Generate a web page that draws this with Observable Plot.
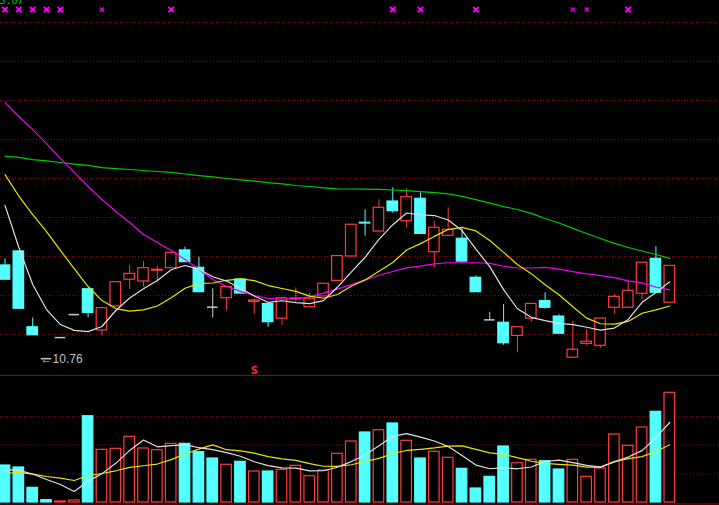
<!DOCTYPE html>
<html>
<head>
<meta charset="utf-8">
<script src="https://cdn.jsdelivr.net/npm/d3@7"></script>
<script src="https://cdn.jsdelivr.net/npm/@observablehq/plot@0.6"></script>
<style>
  html, body { margin: 0; padding: 0; background: #000; }
  #chart { width: 719px; height: 505px; overflow: hidden; background: #000; }
  #chart svg { display: block; }
</style>
</head>
<body>
<div id="chart"></div>
<script>
// ---- Data (price units / volume units) ----
const opens  = [15.54,16.26,12.37,10.76,11.84,13.02,14.32,12.21,13.44,14.81,14.72,15.27,15.40,16.31,15.42,13.40,13.86,14.82,13.67,13.57,12.81,13.81,13.40,13.95,14.75,16.00,17.73,17.28,18.82,17.81,18.96,16.22,17.06,16.91,14.91,12.75,12.60,11.93,12.81,13.71,12.92,10.81,11.52,11.42,13.37,13.37,14.09,15.88,13.63];
const highs  = [15.88,16.26,12.84,10.76,11.84,13.02,14.32,13.35,14.68,15.54,15.74,15.49,16.19,16.48,15.96,14.34,14.43,14.82,13.83,13.57,13.86,14.39,14.12,14.60,16.02,17.63,18.39,18.91,19.52,19.47,19.25,17.79,18.50,17.42,15.01,13.14,13.54,12.37,13.57,14.14,13.01,12.67,12.26,12.82,14.05,14.72,15.68,16.51,15.52];
const lows   = [14.81,13.32,11.96,10.76,11.84,13.02,12.86,11.93,13.44,14.31,14.43,14.68,15.40,15.71,14.17,12.84,13.23,14.10,13.03,12.37,12.46,13.66,13.40,13.95,14.75,16.00,17.04,17.28,18.22,17.47,17.16,15.42,17.06,15.66,14.17,12.75,11.44,11.06,12.63,13.30,12.04,10.81,11.42,11.30,13.03,13.37,13.79,14.14,13.63];
const closes = [14.81,13.32,11.96,10.76,11.84,13.02,13.11,13.35,14.68,15.11,15.40,15.32,16.19,15.71,14.17,13.40,14.43,14.10,13.74,12.63,13.86,13.85,13.83,14.60,16.02,17.63,17.69,18.50,18.32,19.04,17.16,17.47,17.37,15.74,14.17,12.75,11.55,12.37,13.57,13.37,12.04,11.22,11.63,12.82,13.93,14.24,15.68,14.14,15.52];
const volumes = [12890,12200,5120,800,350,700,30070,18360,18710,22890,18820,18220,20450,20450,17530,15330,13140,14180,10800,10800,11390,12790,9160,11150,16970,21250,24390,25190,27530,21500,15330,17670,15570,11740,4880,8950,19510,13690,14880,14390,11500,14880,8950,11850,23690,19760,26130,31600,38220];

const ma5  = [18.62,16.46,14.56,13.28,12.51,12.21,12.15,12.41,13.23,13.87,14.35,14.77,15.32,15.54,15.35,14.96,14.74,14.37,13.97,13.65,13.73,13.63,13.58,13.74,14.42,15.20,15.96,16.88,17.63,18.23,18.14,18.10,17.87,17.33,16.38,15.48,14.30,13.32,12.88,12.71,12.57,12.51,12.37,12.22,12.33,12.77,13.65,14.15,14.70];
const ma10 = [20.20,19.10,18.15,17.28,16.31,15.38,14.46,13.74,13.33,13.20,13.26,13.46,13.88,14.37,14.61,14.64,14.78,14.85,14.76,14.51,14.36,14.21,13.97,13.86,14.05,14.47,14.80,15.24,15.69,16.33,16.66,17.03,17.38,17.49,17.31,16.82,16.21,15.59,15.12,14.55,14.04,13.42,12.84,12.55,12.53,12.67,13.09,13.26,13.46];
const ma20 = [23.90,23.18,22.51,21.79,21.03,20.31,19.59,18.92,18.31,17.74,17.13,16.72,16.31,15.85,15.33,14.82,14.46,14.21,14.00,13.85,13.81,13.83,13.93,14.12,14.33,14.56,14.79,15.04,15.23,15.42,15.51,15.62,15.68,15.68,15.68,15.65,15.50,15.41,15.41,15.44,15.35,15.22,15.11,15.02,14.92,14.75,14.65,14.43,14.29];
const ma60 = [21.15,21.08,20.97,20.90,20.82,20.74,20.67,20.56,20.51,20.46,20.41,20.36,20.31,20.23,20.15,20.08,20.00,19.93,19.87,19.79,19.72,19.64,19.59,19.52,19.47,19.46,19.45,19.44,19.41,19.38,19.33,19.28,19.21,19.08,18.92,18.74,18.56,18.41,18.21,17.95,17.72,17.44,17.18,16.92,16.67,16.46,16.28,16.10,15.90];

const vma5  = [11430,11220,9930,8010,6270,3830,7410,10060,13640,18150,21770,19400,19820,20170,19090,18400,17380,16130,14200,12850,12060,11990,10990,11060,12290,14260,16580,19790,23070,23970,22790,21440,19520,16360,13040,11760,12130,11750,12380,14280,14790,13870,12920,12310,14170,15830,18080,22610,27880];
const vma10 = [10100,10520,9900,9060,8470,7670,9410,10100,11050,12210,12800,13400,14940,16900,18620,20080,18390,17970,17180,15970,15230,14690,13560,12630,12570,13160,14290,15390,17060,18130,18530,19010,19660,19710,18510,17280,16790,15640,14370,13660,13280,13000,12340,12350,14230,15310,15970,17760,20100];

const priceGrid = [12,14,16,18,20,22,24,26,28];
const volumeGrid = [10000,20000,30000];
const markBig = [0,1,2,3,4,12,28,30,34,45];
const markSmall = [7,41,42];
const lowLabel = {i: 3, price: 10.76, text: "\u219010.76"};
const signalIdx = [18];
const topLeftText = "5.07";

// ---- colours ----
const RED = "#ff3c3c", CYAN = "#54ffff", GRAY = "#c8c8c8";
const GRID = "#a00000";

const cands = opens.map((o, i) => ({
  i, o, h: highs[i], l: lows[i], c: closes[i], v: volumes[i],
  prev: i > 0 ? closes[i - 1] : o
}));
const dirOf = d => d.c > d.o ? "up" : d.c < d.o ? "down" : "flat";
const candleColor = d => ({up: RED, down: CYAN, flat: GRAY})[dirOf(d)];
const volUp = d => d.c > d.o || (d.c === d.o && d.c >= d.prev);

const X = {type: "linear", domain: [-0.325, 51.59], axis: null};
const HW = 0.38;

const price = Plot.plot({
  width: 719, height: 375, margin: 0,
  style: {background: "#000", overflow: "hidden"},
  x: X,
  y: {domain: [9.897, 29.128], axis: null},
  marks: [
    Plot.ruleY(priceGrid, {stroke: GRID, strokeDasharray: "1,2", strokeWidth: 1}),
    Plot.ruleX(cands, {x: "i", y1: "l", y2: "h", stroke: candleColor}),
    Plot.rect(cands.filter(d => d.c !== d.o), {
      x1: d => d.i - HW, x2: d => d.i + HW, y1: "o", y2: "c",
      fill: d => dirOf(d) === "up" ? "#000" : CYAN,
      stroke: candleColor, strokeWidth: 1.2
    }),
    Plot.ruleY(cands.filter(d => d.c === d.o), {
      y: "c", x1: d => d.i - HW, x2: d => d.i + HW, stroke: GRAY, strokeWidth: 1.5
    }),
    Plot.line(ma60, {x: (d, i) => i, y: d => d, stroke: "#00cc00", strokeWidth: 1.2}),
    Plot.line(ma20, {x: (d, i) => i, y: d => d, stroke: "#f000f0", strokeWidth: 1.2}),
    Plot.line(ma10, {x: (d, i) => i, y: d => d, stroke: "#e6e600", strokeWidth: 1.2}),
    Plot.line(ma5,  {x: (d, i) => i, y: d => d, stroke: "#e0e0e0", strokeWidth: 1.2}),
    Plot.dot(markBig, {x: d => d, frameAnchor: "top", dy: 9, symbol: "times", r: 2.6, stroke: "#ff00ff", strokeWidth: 1.8}),
    Plot.dot(markSmall, {x: d => d, frameAnchor: "top", dy: 9, symbol: "times", r: 2, stroke: "#e000e0", strokeWidth: 1.4}),
    Plot.text([lowLabel], {x: "i", y: "price", text: "text", textAnchor: "start", dx: -6, fill: "#c0c0c0", fontSize: 12, fontFamily: "Liberation Sans, Arial, sans-serif"}),
    Plot.text(signalIdx, {x: d => d, frameAnchor: "bottom", dy: -2, text: () => "S", fill: "#ff2020", fontSize: 10, fontWeight: "bold", fontFamily: "DejaVu Sans, sans-serif"}),
    Plot.text([topLeftText], {frameAnchor: "top-left", dy: -4, dx: -1, text: d => d, fill: "#00d000", fontSize: 10, fontFamily: "DejaVu Sans Mono, monospace"})
  ]
});

const volume = Plot.plot({
  width: 719, height: 130, marginTop: 0, marginBottom: 3, marginLeft: 0, marginRight: 0,
  style: {background: "#000", overflow: "hidden"},
  x: X,
  y: {domain: [0, 44251], axis: null},
  marks: [
    Plot.frame({anchor: "top", stroke: "#a00000"}),
    Plot.ruleY([0], {stroke: "#a00000", dy: 1.5}),
    Plot.ruleY(volumeGrid, {stroke: GRID, strokeDasharray: "1,2"}),
    Plot.rect(cands, {
      x1: d => d.i - HW, x2: d => d.i + HW, y1: 0, y2: "v",
      fill: d => volUp(d) ? "#000" : CYAN,
      stroke: d => volUp(d) ? RED : CYAN, strokeWidth: 1.2
    }),
    Plot.line(vma10, {x: (d, i) => i, y: d => d, stroke: "#e6e600", strokeWidth: 1.2}),
    Plot.line(vma5,  {x: (d, i) => i, y: d => d, stroke: "#e0e0e0", strokeWidth: 1.2})
  ]
});

const root = document.getElementById("chart");
root.appendChild(price);
root.appendChild(volume);
</script>
</body>
</html>
